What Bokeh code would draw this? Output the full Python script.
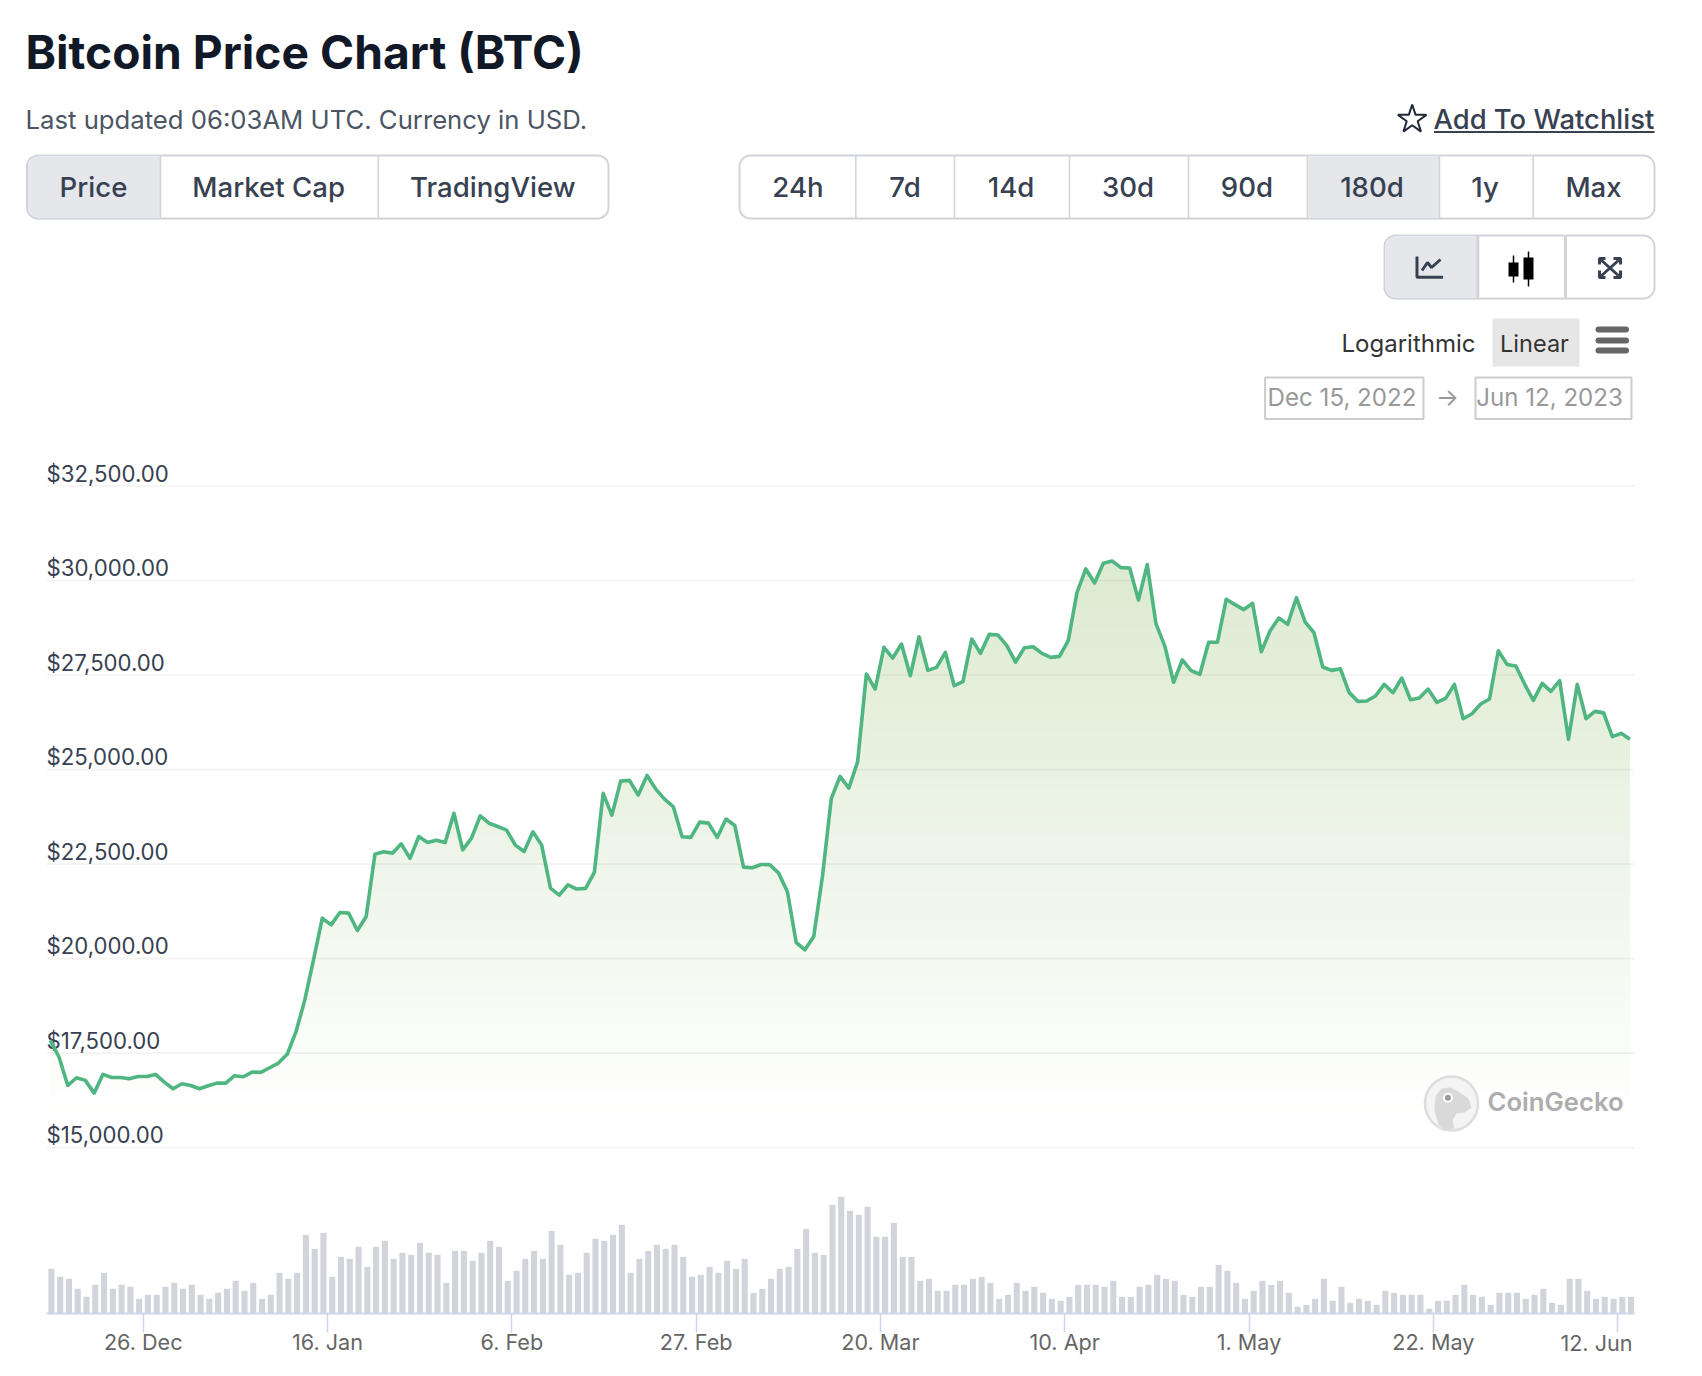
import numpy as np
import pandas as pd
from bokeh.core.properties import value
from bokeh.embed import file_html
from bokeh.models import FixedTicker, LinearAxis, Range1d
from bokeh.plotting import figure
from bokeh.resources import INLINE

TITLE = "Bitcoin Price Chart (BTC)"
SUBTITLE = "Last updated 06:03AM UTC. Currency in USD."
PRICE_BUTTONS = ["Price", "Market Cap", "TradingView"]
RANGE_BUTTONS = ["24h", "7d", "14d", "30d", "90d", "180d", "1y", "Max"]

PRICE_TICKS = [15000, 17500, 20000, 22500, 25000, 27500, 30000, 32500]
PRICE_LABELS = ["$15,000.00", "$17,500.00", "$20,000.00", "$22,500.00",
                "$25,000.00", "$27,500.00", "$30,000.00", "$32,500.00"]
TICK_DATES = ["2022-12-26", "2023-01-16", "2023-02-06", "2023-02-27", "2023-03-20",
              "2023-04-10", "2023-05-01", "2023-05-22", "2023-06-12"]
TICK_LABELS = ["26. Dec", "16. Jan", "6. Feb", "27. Feb", "20. Mar",
               "10. Apr", "1. May", "22. May", "12. Jun"]

PRICE = [17840, 17398, 16646, 16850, 16780, 16443, 16938, 16858, 16858, 16823,
         16885, 16885, 16938, 16735, 16558, 16690, 16646, 16558, 16637, 16708,
         16708, 16903, 16876, 17000, 16991, 17115, 17239, 17470, 18062, 18903,
         19965, 21071, 20894, 21221, 21204, 20743, 21115, 22764, 22826, 22790,
         23037, 22650, 23230, 23072, 23134, 23072, 23846, 22878, 23186, 23776,
         23582, 23494, 23398, 23002, 22834, 23354, 23002, 21866, 21682, 21954,
         21840, 21858, 22280, 24370, 23796, 24696, 24714, 24326, 24846, 24484,
         24220, 24017, 23223, 23206, 23611, 23585, 23206, 23691, 23523, 22420,
         22403, 22491, 22482, 22262, 21768, 20427, 20233, 20586, 22191, 24238,
         24820, 24511, 25208, 27528, 27130, 28233, 27950, 28320, 27482, 28514,
         27624, 27703, 28100, 27218, 27324, 28453, 28074, 28576, 28558, 28276,
         27844, 28223, 28250, 28074, 27968, 27994, 28409, 29688, 30306, 29935,
         30456, 30518, 30342, 30333, 29486, 30421, 28853, 28271, 27310, 27901,
         27619, 27521, 28367, 28367, 29503, 29362, 29230, 29397, 28117, 28672,
         29008, 28840, 29546, 28902, 28620, 27712, 27624, 27668, 27042, 26804,
         26813, 26945, 27254, 27033, 27421, 26848, 26892, 27130, 26778, 26884,
         27254, 26346, 26478, 26734, 26866, 28144, 27782, 27738, 27262, 26830,
         27280, 27068, 27350, 25800, 27254, 26346, 26540, 26500, 25870, 25958,
         25800]

VOLUME = [134, 110, 104, 74, 50, 86, 122, 74, 86, 80, 44, 56, 56, 80, 92, 74, 86, 56, 44, 62,
          74, 98, 68, 92, 44, 56, 122, 104, 122, 236, 194, 242, 110, 170, 164, 200, 140, 200, 218, 164,
          182, 176, 212, 182, 176, 92, 188, 188, 158, 182, 218, 200, 98, 128, 164, 188, 164, 248, 206, 116,
          122, 182, 224, 218, 236, 266, 122, 164, 188, 206, 194, 206, 170, 110, 116, 140, 122, 158, 134, 164,
          62, 74, 104, 134, 140, 194, 254, 182, 176, 326, 350, 308, 296, 320, 230, 230, 272, 170, 170, 98,
          104, 68, 68, 86, 86, 104, 110, 92, 44, 56, 92, 68, 80, 62, 44, 38, 50, 86, 86, 86,
          80, 98, 50, 50, 80, 86, 116, 104, 98, 56, 50, 80, 80, 146, 128, 92, 44, 68, 98, 86,
          98, 62, 20, 26, 44, 104, 38, 80, 32, 44, 38, 26, 68, 62, 56, 56, 56, 14, 38, 38,
          56, 86, 56, 50, 26, 62, 62, 62, 44, 56, 74, 32, 26, 104, 104, 68, 44, 50, 44, 50,
          50]

PAGE_L, PAGE_T, PAGE_R, PAGE_B = 0, 0, 1686, 1360
DAY = 86400000
PX_PER_DAY = 8.776
T0 = pd.Timestamp("2022-12-15").value // 10**6
X0_PX = 46.2
PRICE_Y15, PRICE_Y325 = 1147.2, 485.5
PX_PER_USD = (PRICE_Y15 - PRICE_Y325) / 17500
VOL_BASE_PX = 1313.0
VOL_PX = 1 / 3


def ms_at(px):
    return T0 + (px - X0_PX) / PX_PER_DAY * DAY


price_dates = pd.date_range("2022-12-15 09:40", periods=len(PRICE), freq="D")
volume_dates = pd.date_range("2022-12-15 12:50", periods=len(VOLUME), freq="D")
x_ms = np.array([d.value // 10**6 for d in price_dates], dtype=float)
x_vol = np.array([d.value // 10**6 for d in volume_dates], dtype=float)
price = np.array(PRICE, dtype=float)

p = figure(width=PAGE_R - PAGE_L, height=PAGE_B - PAGE_T,
           x_range=Range1d(ms_at(PAGE_L), ms_at(PAGE_R)),
           y_range=Range1d(15000 - (PAGE_B - PRICE_Y15) / PX_PER_USD,
                           15000 + (PRICE_Y15 - PAGE_T) / PX_PER_USD),
           x_axis_location=None, y_axis_location=None,
           min_border=0, toolbar_location=None, output_backend="svg",
           outline_line_color=None, background_fill_color="#ffffff", border_fill_color="#ffffff")
p.grid.visible = False
p.extra_x_ranges["ui"] = Range1d(PAGE_L, PAGE_R)
p.extra_y_ranges["ui"] = Range1d(PAGE_B, PAGE_T)
p.extra_y_ranges["vol"] = Range1d(-(PAGE_B - VOL_BASE_PX) / VOL_PX, (VOL_BASE_PX - PAGE_T) / VOL_PX)

UI = dict(x_range_name="ui", y_range_name="ui")
FONT = "Inter"
DARK = "#374151"
BORDER = "#d1d5db"
ACTIVE = "#e5e7eb"


def ui_text(x, y, txt, size, color, align="left", style="normal", font=FONT):
    p.text(x=[x], y=[y], text=[txt], text_font=value(font), text_font_size=f"{size}px",
           text_color=color, text_align=align, text_baseline="middle", text_font_style=style, **UI)


def rr(x0, y0, x1, y1, tl=0, tr=0, br=0, bl=0):
    xs, ys = [], []
    corners = [(x0 + tl, y0 + tl, tl, 180), (x1 - tr, y0 + tr, tr, 270),
               (x1 - br, y1 - br, br, 0), (x0 + bl, y1 - bl, bl, 90)]
    for cx, cy, r, a in corners:
        for t in np.radians(np.linspace(a, a + 90, 9)):
            xs.append(cx + r * np.cos(t))
            ys.append(cy + r * np.sin(t))
    return xs, ys


def button_group(x0, y0, x1, y1, dividers, active, r=11, div_w=1.6):
    edges = [x0] + dividers + [x1]
    xs, ys = rr(x0, y0 + 2, x1, y1 + 1, r, r, r, r)
    p.patch(xs, ys, fill_color=BORDER, fill_alpha=0.55, line_color=None, **UI)
    xs, ys = rr(x0, y0, x1, y1, r, r, r, r)
    p.patch(xs, ys, fill_color="#ffffff", line_color=BORDER, line_width=2, **UI)
    a0, a1 = edges[active], edges[active + 1]
    xs, ys = rr(a0 + 1, y0 + 1, a1, y1 - 1,
                r if active == 0 else 0, 0, 0, r if active == 0 else 0)
    p.patch(xs, ys, fill_color=ACTIVE, line_color=None, **UI)
    for d in dividers:
        p.line([d, d], [y0, y1], line_color=BORDER, line_width=div_w, **UI)


# header
ui_text(25, 51, TITLE, 46.2, "#111827", style="bold")
ui_text(25, 119, SUBTITLE, 25.7, "#4b5563")

p.scatter([1411.7], [119], marker="star", size=30, fill_alpha=0, line_color="#1f2937", line_width=2, **UI)
ui_text(1433, 118, "Add To Watchlist", 27.4, DARK, font="Inter Medium")
p.line([1433.5, 1654], [131.5, 131.5], line_color=DARK, line_width=2, **UI)

button_group(26.5, 155, 608, 218, [160, 377.8], 0)
for cx, t in zip([93, 268.2, 492.3], PRICE_BUTTONS):
    ui_text(cx, 186, t, 27.6, DARK, "center", font="Inter Medium")

button_group(739, 155, 1654, 218, [855.3, 954, 1069, 1188, 1307, 1439, 1532.7], 5)
for cx, t in zip([797.5, 904.5, 1010.5, 1127.5, 1246.5, 1371.5, 1484.5, 1593], RANGE_BUTTONS):
    ui_text(cx, 186, t, 27.6, DARK, "center", font="Inter Medium")

button_group(1384, 235, 1654, 298, [1477.3, 1565], 0, div_w=3)
p.line([1416.5, 1416.5, 1442.6], [256, 276.7, 276.7], line_color=DARK, line_width=3, **UI)
p.line([1421.5, 1427, 1431, 1440], [270, 262, 267, 259], line_color=DARK, line_width=3, **UI)
p.segment([1513, 1528], [255, 251], [1513, 1528], [282, 286], line_color="#000000", line_width=1.5, **UI)
p.quad(left=[1508, 1523], right=[1518, 1533], top=[262, 257], bottom=[276, 279], fill_color="#000000", line_color=None, **UI)
for xs, ys in [([1599, 1599, 1605], [264, 258, 258]), ([1613, 1620, 1620], [258, 258, 264]),
               ([1599, 1599, 1605], [270, 277, 277]), ([1613, 1620, 1620], [277, 277, 270]),
               ([1600, 1619], [259, 276]), ([1619, 1600], [259, 276])]:
    p.line(xs, ys, line_color=DARK, line_width=3, **UI)

ui_text(1341, 343, "Logarithmic", 24, "#333333")
p.quad(left=[1492], right=[1579], top=[318], bottom=[366], fill_color="#e6e6e6", line_color=None, **UI)
ui_text(1534, 343, "Linear", 23.5, "#333333", "center")
for y in [329, 340, 350]:
    p.line([1598, 1625.5], [y, y], line_color="#666666", line_width=6, line_cap="round", **UI)

for x0, x1, t, cx in [(1264.6, 1423, "Dec 15, 2022", 1341.5), (1475, 1631, "Jun 12, 2023", 1549)]:
    p.quad(left=[x0], right=[x1], top=[377], bottom=[418.5], fill_color="#ffffff", line_color="#cccccc", line_width=2, **UI)
    ui_text(cx, 397, t, 24.1, "#999999", "center")
ui_text(1447, 397, "→", 24, "#999999", "center")

# gradient fill under the line: contiguous slices with a hair of overlap
BOTTOM = 15500.0
TOP = 31000.0
levels = np.arange(BOTTOM, TOP, 250.0)
for lv in levels:
    t = min((lv - BOTTOM) / (30500.0 - BOTTOM), 1.0)
    rgb = [int(round(255 + (c - 255) * t)) for c in (220, 234, 208)]
    p.varea(x=x_ms, y1=np.minimum(price, lv), y2=np.minimum(price, lv + 280.0),
            fill_color="#%02x%02x%02x" % tuple(rgb))

# price gridlines and labels
grid = p.segment(x0=[46] * len(PRICE_TICKS), x1=[1634] * len(PRICE_TICKS), y0=PRICE_TICKS, y1=PRICE_TICKS,
                 x_range_name="ui", line_color="#000000", line_alpha=0.05, line_width=1.6)
grid.level = "guide"
labels = p.text(x=[46] * len(PRICE_TICKS), y=PRICE_TICKS, text=PRICE_LABELS, x_range_name="ui",
                y_offset=-13, text_font=value(FONT), text_font_size="22.2px", text_color=DARK,
                text_align="left", text_baseline="middle")
labels.level = "guide"

# volume
bars = p.vbar(x=x_vol, top=VOLUME, bottom=0, width=6.1 / PX_PER_DAY * DAY, y_range_name="vol",
              fill_color="#d1d5db", line_color=None)

# price line
ln = p.line(x_ms, price, line_color="#4fb682", line_width=3.6, line_join="round")
ln.level = "annotation"

# date axis
tick_ms = [pd.Timestamp(d).value // 10**6 for d in TICK_DATES]
axis = LinearAxis(fixed_location=0, y_range_name="vol", ticker=FixedTicker(ticks=tick_ms),
                  bounds=(ms_at(46), ms_at(1634)),
                  major_label_overrides={t: (l if i < len(tick_ms) - 1 else " ")
                                         for i, (t, l) in enumerate(zip(tick_ms, TICK_LABELS))},
                  axis_line_color="#ccd6eb", axis_line_width=2,
                  major_tick_line_color="#ccd6eb", major_tick_line_width=1.5,
                  major_tick_in=0, major_tick_out=19, minor_tick_line_color=None,
                  major_label_standoff=-4, major_label_text_color="#666666",
                  major_label_text_font=FONT, major_label_text_font_size="21.6px")
p.add_layout(axis, "below")
ui_text(1632, 1342, TICK_LABELS[-1], 21.6, "#666666", "right")

# watermark
p.ellipse([1451], [1103], width=[53], height=[54], fill_color="#f4f4f4", line_color="#dddddd", line_width=2.5, **UI)
p.patch([1438, 1434, 1435, 1441, 1450, 1458, 1468, 1471, 1464, 1456, 1452, 1454, 1445],
        [1124, 1110, 1096, 1088, 1087, 1091, 1098, 1107, 1112, 1113, 1120, 1128, 1129],
        fill_color="#d9d9d9", line_color=None, **UI)
p.scatter([1447.4], [1097.3], size=10, fill_color="#ffffff", line_color=None, **UI)
p.scatter([1447.4], [1097.3], size=6, fill_color="#9a9a9a", line_color=None, **UI)
ui_text(1487, 1101, "CoinGecko", 25.7, "#adadad", font="Inter SemiBold")

open("out.html", "w").write(file_html(p, INLINE))
